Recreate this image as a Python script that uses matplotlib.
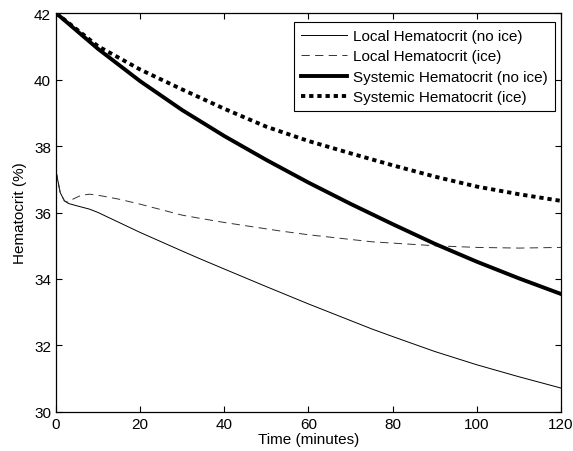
import matplotlib
matplotlib.use("Agg")
import matplotlib.pyplot as plt

plt.rcParams['font.family'] = ['Liberation Sans', 'DejaVu Sans']

# Local hematocrit, no ice
t_local_noice = [0, 1, 2, 3, 5, 8, 10, 15, 20, 30, 34, 40, 50, 60, 70, 75, 80, 90, 100, 110, 120]
h_local_noice = [37.25, 36.6, 36.35, 36.27, 36.2, 36.1, 36.0, 35.7, 35.4, 34.84, 34.62, 34.3,
                 33.77, 33.25, 32.75, 32.5, 32.27, 31.82, 31.42, 31.06, 30.72]

# Local hematocrit, ice
t_local_ice = [0, 1, 2, 3, 4, 6, 8, 10, 15, 20, 30, 34, 40, 53, 60, 75, 90, 100, 110, 120]
h_local_ice = [37.25, 36.6, 36.35, 36.3, 36.4, 36.52, 36.55, 36.52, 36.4, 36.25, 35.92, 35.83,
               35.7, 35.45, 35.33, 35.12, 35.0, 34.95, 34.93, 34.95]

# Systemic hematocrit, no ice
t_sys = [0, 10, 20, 30, 40, 50, 60, 70, 80, 90, 100, 110, 120]
h_sys_noice = [42.0, 40.92, 39.95, 39.08, 38.3, 37.58, 36.9, 36.26, 35.65, 35.06, 34.52, 34.02, 33.55]

# Systemic hematocrit, ice
h_sys_ice = [42.0, 41.0, 40.3, 39.7, 39.12, 38.58, 38.15, 37.78, 37.42, 37.08, 36.78, 36.55, 36.35]

fig = plt.figure(figsize=(5.73, 4.52), dpi=100)
ax = fig.add_axes([0.0977, 0.0863, 0.8813, 0.8827])

ax.plot(t_local_noice, h_local_noice, color='black', lw=0.7, label='Local Hematocrit (no ice)')
ax.plot(t_local_ice, h_local_ice, color='#333333', lw=0.7, ls=(0, (8.5, 5.5)), label='Local Hematocrit (ice)')
ax.plot(t_sys, h_sys_noice, color='black', lw=2.8, label='Systemic Hematocrit (no ice)')
ax.plot(t_sys, h_sys_ice, color='black', lw=2.8, ls=(0, (1.1, 1.0)), label='Systemic Hematocrit (ice)')

ax.set_xlim(0, 120)
ax.set_ylim(30, 42)
ax.set_xticks(range(0, 121, 20))
ax.set_yticks(range(30, 43, 2))
ax.tick_params(direction='in', top=True, right=True, labelsize=11, length=4, width=0.8)
for s in ax.spines.values():
    s.set_linewidth(0.9)

ax.set_xlabel('Time (minutes)', fontsize=11, labelpad=1)
ax.set_ylabel('Hematocrit (%)', fontsize=11, labelpad=5)

leg = ax.legend(loc='upper right', fontsize=11, frameon=True, fancybox=False,
                edgecolor='black', framealpha=1, handlelength=3.0,
                borderpad=0.45, labelspacing=0.42, handletextpad=0.4,
                borderaxespad=0, bbox_to_anchor=(0.988, 0.977))
leg.get_frame().set_linewidth(0.8)

fig.savefig('out.png', dpi=100)
